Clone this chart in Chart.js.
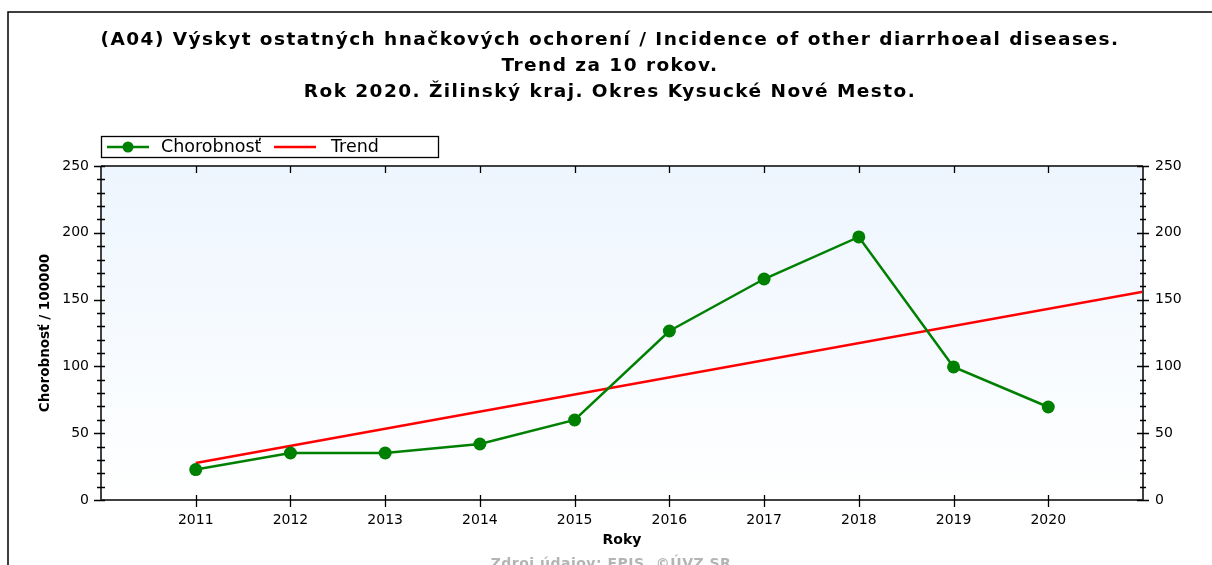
<!DOCTYPE html>
<html>
<head>
<meta charset="utf-8">
<script src="https://cdn.jsdelivr.net/npm/chart.js@4/dist/chart.umd.min.js"></script>
<style>
  html, body { margin: 0; padding: 0; background: #fff; }
  #wrap { width: 1212px; height: 565px; position: relative; }
</style>
</head>
<body>
<div id="wrap"><canvas id="chart"></canvas></div>
<script>
// Roky a chorobnosť (na 100 000 obyvateľov)
const years = [2011, 2012, 2013, 2014, 2015, 2016, 2017, 2018, 2019, 2020];
const incidence = [22.8, 35.2, 35.2, 41.9, 59.9, 126.5, 165.4, 196.9, 99.6, 69.6];

// Trend — priamka od 2011 po koniec osi
const trendYears = [2011, 2021];
const trendValues = [27.7, 155.8];

const yTicks = [0, 50, 100, 150, 200, 250];
const titleLines = [
  '(A04) Výskyt ostatných hnačkových ochorení / Incidence of other diarrhoeal diseases.',
  'Trend za 10 rokov.',
  'Rok 2020. Žilinský kraj. Okres Kysucké Nové Mesto.'
];
const FONT = '"DejaVu Sans", Verdana, sans-serif';
const AXIS_COLOR = '#404040';

// pozadie, rám, gradient plochy grafu, nadpis
const backdrop = {
  id: 'backdrop',
  beforeDraw(chart) {
    const { ctx, chartArea: a } = chart;
    ctx.save();
    ctx.fillStyle = '#fff';
    ctx.fillRect(0, 0, chart.width, chart.height);
    const g = ctx.createLinearGradient(0, a.top, 0, a.bottom);
    g.addColorStop(0, '#edf5fe');
    g.addColorStop(1, '#ffffff');
    ctx.fillStyle = g;
    ctx.fillRect(a.left, a.top, a.right - a.left, a.bottom - a.top);
    // rám okolo obrázka
    ctx.strokeStyle = '#000';
    ctx.lineWidth = 1.5;
    ctx.beginPath();
    ctx.moveTo(8, chart.height);
    ctx.lineTo(8, 12);
    ctx.lineTo(chart.width, 12);
    ctx.stroke();

    ctx.fillStyle = '#000';
    ctx.font = 'bold 18.5px ' + FONT;
    ctx.textAlign = 'center';
    ctx.textBaseline = 'middle';
    ctx.letterSpacing = '1.45px';
    const titleY = [40, 66, 92];
    titleLines.forEach((t, i) => ctx.fillText(t, 610, titleY[i]));
    ctx.letterSpacing = '0px';
    ctx.restore();
  }
};

// osi, značky (hlavné aj vedľajšie), legenda, zdroj
const axesDeco = {
  id: 'axesDeco',
  afterDraw(chart) {
    const { ctx, chartArea: a } = chart;
    const x = chart.scales.x, yl = chart.scales.y, yr = chart.scales.y2;
    ctx.save();
    ctx.strokeStyle = AXIS_COLOR;
    ctx.lineWidth = 2;
    ctx.beginPath();
    ctx.moveTo(a.left, a.top); ctx.lineTo(a.right, a.top);
    ctx.moveTo(a.left, a.bottom); ctx.lineTo(a.right, a.bottom);
    ctx.moveTo(a.left, a.top); ctx.lineTo(a.left, a.bottom);
    ctx.moveTo(a.right, a.top); ctx.lineTo(a.right, a.bottom);
    ctx.stroke();

    ctx.strokeStyle = '#000';
    ctx.lineWidth = 1.3;
    ctx.beginPath();
    for (let v = 0; v <= 250; v += 10) {
      const major = v % 50 === 0;
      const py = Math.round(yl.getPixelForValue(v)) + 0.5;
      ctx.moveTo(a.left - (major ? 7 : 4), py); ctx.lineTo(a.left + 4, py);
      const pr = Math.round(yr.getPixelForValue(v)) + 0.5;
      ctx.moveTo(a.right - (major ? 6 : 3), pr); ctx.lineTo(a.right + (major ? 6 : 3), pr);
    }
    years.forEach(yr0 => {
      const px = Math.round(x.getPixelForValue(yr0)) + 0.5;
      ctx.moveTo(px, a.bottom - 5); ctx.lineTo(px, a.bottom + 7);
      ctx.moveTo(px, a.top); ctx.lineTo(px, a.top + 7);
    });
    ctx.stroke();

    // legenda
    const lx = 101, ly = 136, lw = 337, lh = 21;
    ctx.fillStyle = '#fff';
    ctx.fillRect(lx, ly, lw, lh);
    ctx.strokeStyle = '#000';
    ctx.lineWidth = 1.3;
    ctx.strokeRect(lx + 0.5, ly + 0.5, lw, lh);
    const my = ly + lh / 2 + 0.5;
    ctx.strokeStyle = '#008000';
    ctx.lineWidth = 2.5;
    ctx.beginPath(); ctx.moveTo(107, my); ctx.lineTo(149, my); ctx.stroke();
    ctx.fillStyle = '#008000';
    ctx.beginPath(); ctx.arc(128, my, 5.5, 0, Math.PI * 2); ctx.fill();
    ctx.strokeStyle = '#ff0000';
    ctx.beginPath(); ctx.moveTo(274, my); ctx.lineTo(316, my); ctx.stroke();
    ctx.fillStyle = '#000';
    ctx.font = '17.5px ' + FONT;
    ctx.textBaseline = 'middle';
    ctx.fillText('Chorobnosť', 161, my);
    ctx.fillText('Trend', 331, my);

    // zdroj (orezaný dole)
    ctx.fillStyle = '#b4b4b4';
    ctx.font = 'bold 14px ' + FONT;
    ctx.letterSpacing = '0.5px';
    ctx.textAlign = 'center';
    ctx.textBaseline = 'top';
    ctx.fillText('Zdroj údajov: EPIS, ©ÚVZ SR', 611, 557);
    ctx.letterSpacing = '0px';
    ctx.restore();
  }
};

const ctx = document.getElementById('chart').getContext('2d');
new Chart(ctx, {
  type: 'line',
  data: {
    datasets: [
      {
        label: 'Chorobnosť',
        data: years.map((yr, i) => ({ x: yr, y: incidence[i] })),
        borderColor: '#008000',
        backgroundColor: '#008000',
        borderWidth: 2.5,
        pointRadius: 6.5,
        pointHoverRadius: 6.5,
        pointBorderWidth: 0,
        tension: 0,
        order: 1
      },
      {
        label: 'Trend',
        data: trendYears.map((yr, i) => ({ x: yr, y: trendValues[i] })),
        borderColor: '#ff0000',
        backgroundColor: '#ff0000',
        borderWidth: 2.5,
        pointRadius: 0,
        tension: 0,
        order: 2
      }
    ]
  },
  options: {
    responsive: true,
    maintainAspectRatio: false,
    animation: false,
    events: [],
    layout: { padding: { left: 36, right: 0, top: 166, bottom: 0 } },
    plugins: {
      legend: { display: false },
      tooltip: { enabled: false },
      title: { display: false }
    },
    scales: {
      x: {
        type: 'linear',
        min: 2010,
        max: 2021,
        afterBuildTicks: s => { s.ticks = years.map(v => ({ value: v })); },
        ticks: {
          color: '#000',
          font: { family: FONT, size: 14 },
          padding: 12,
          callback: v => String(v)
        },
        grid: { display: false, drawTicks: false },
        border: { display: false },
        title: {
          display: true,
          text: 'Roky',
          color: '#000',
          font: { family: FONT, size: 14, weight: 'bold' },
          padding: { top: 0, bottom: 16 }
        },
        afterFit: s => { s.height = 65; }
      },
      y: {
        position: 'left',
        min: 0,
        max: 250,
        afterBuildTicks: s => { s.ticks = yTicks.map(v => ({ value: v })); },
        ticks: { color: '#000', font: { family: FONT, size: 14 }, padding: 12 },
        grid: { display: false, drawTicks: false },
        border: { display: false },
        title: {
          display: true,
          text: 'Chorobnosť / 100000',
          color: '#000',
          font: { family: FONT, size: 13.5, weight: 'bold' },
          padding: { top: 1, bottom: 0 }
        },
        afterFit: s => { s.width = 101 - 36; }
      },
      y2: {
        position: 'right',
        min: 0,
        max: 250,
        afterBuildTicks: s => { s.ticks = yTicks.map(v => ({ value: v })); },
        ticks: { color: '#000', font: { family: FONT, size: 14 }, padding: 12 },
        grid: { display: false, drawTicks: false },
        border: { display: false },
        afterFit: s => { s.width = 1212 - 1143; }
      }
    }
  },
  plugins: [backdrop, axesDeco]
});
</script>
</body>
</html>
